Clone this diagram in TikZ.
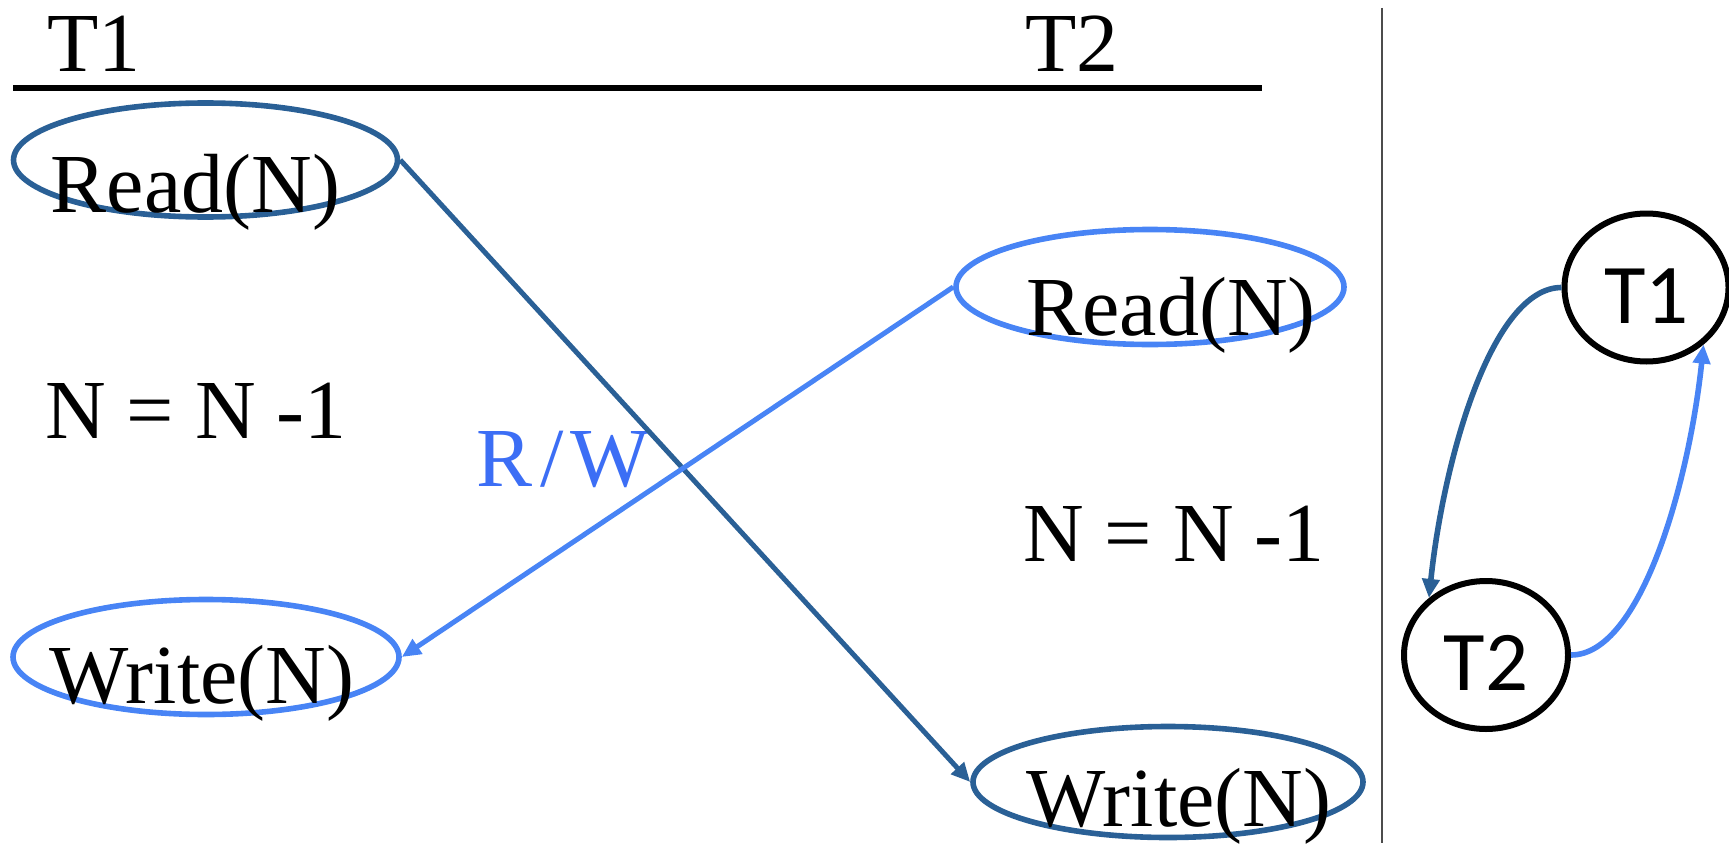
\documentclass[tikz,border=0pt]{standalone}
\usepackage{fontspec}
\setmainfont{Liberation Serif}
\newfontfamily\calfont{Carlito}
\usepackage{xcolor}
\usepackage{tikz}
\usetikzlibrary{shapes.geometric,arrows.meta,positioning}
\definecolor{darkblue}{RGB}{42,96,150}
\definecolor{lightblue}{RGB}{72,132,245}
\definecolor{rwblue}{RGB}{60,110,245}

\begin{document}
\begin{tikzpicture}[x=0.5pt, y=0.5pt, font=\fontsize{42}{50}\selectfont, oval/.style={draw, ellipse, inner sep=0pt, line width=2.8pt}, txt/.style={inner sep=0pt, anchor=base, text=black}, vtx/.style={draw, ellipse, line width=3pt, inner sep=0pt, minimum width=82pt, minimum height=74pt, text height=35.5pt, text depth=0pt, font=\calfont\fontsize{42.5}{50}\selectfont}, arr/.style={-{Triangle[length=9.5pt,width=8.5pt]}, line width=2.5pt}]
\useasboundingbox (0,0) rectangle (1729,843);
% schedule header
\node[txt, anchor=base west] (h1) at (47,771) {T1};
\node[txt, anchor=base west] (h2) at (1025,771) {T2};
\coordinate (rl) at (13,755);
\coordinate (rr) at (1262,755);
\draw[line width=3.2pt] (rl) -- (rr);
\coordinate (vt) at (1382,835);
\coordinate (vb) at (1382,0);
\draw[line width=0.8pt, black!70] (vt) -- (vb);
% operations
\node[oval, draw=darkblue, minimum width=192pt, minimum height=57pt, label={[txt, xshift=-5pt, yshift=-16pt]center:{Read(N)}}] (rd1) at (205.5,683) {};
\node[oval, draw=lightblue, minimum width=193pt, minimum height=57.5pt, label={[txt, xshift=-2pt, yshift=-13pt]center:{Write(N)}}] (wr1) at (206,186) {};
\node[oval, draw=lightblue, minimum width=194pt, minimum height=57.5pt, label={[txt, xshift=10.5pt, yshift=-14pt]center:{Read(N)}}] (rd2) at (1150,556) {};
\node[oval, draw=darkblue, minimum width=195pt, minimum height=55.5pt, label={[txt, xshift=5.5pt, yshift=-12pt]center:{Write(N)}}] (wr2) at (1168,61) {};
\node[txt] (calc1) at (196,405) {N = N -1};
\node[txt] (calc2) at (1174,282) {N = N -1};
\node[txt, text=rwblue] (rw) at (563,357) {R\kern4pt/\kern3pt W};
\draw[arr, darkblue] (rd1.east) -- (wr2.west);
\draw[arr, lightblue] (rd2.west) -- (wr1.east);
% precedence graph
\node[vtx] (g1) at (1646.5,555.5) {T1};
\node[vtx] (g2) at (1486,188) {T2};
\draw[arr, darkblue, line width=2.8pt] (g1.west) to[out=180, in=84, out looseness=0.53, in looseness=1.05] (g2.135);
\draw[arr, lightblue, line width=2.8pt] (g2.east) to[out=0, in=-96, out looseness=0.53, in looseness=1.05] (g1.-45);
\end{tikzpicture}
\end{document}
